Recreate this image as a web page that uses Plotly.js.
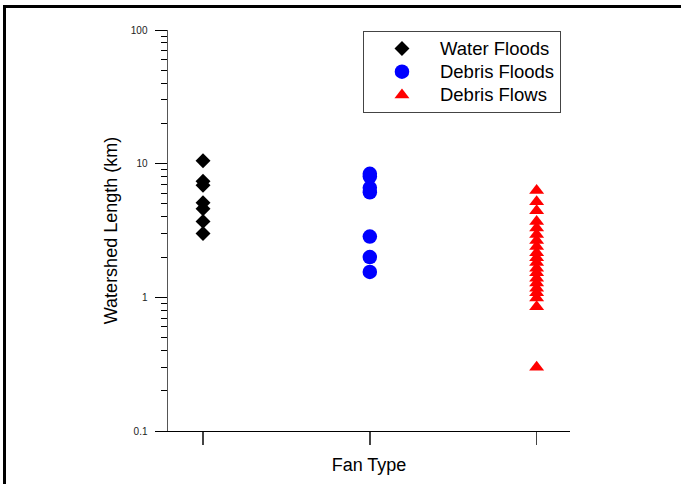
<!DOCTYPE html>
<html>
<head>
<meta charset="utf-8">
<script src="https://cdn.plot.ly/plotly-3.0.1.min.js"></script>
<style>
  html, body { margin: 0; padding: 0; background: #fff; overflow: hidden; }
  #chart { width: 681px; height: 484px; position: absolute; left: 0; top: 0; }
  #frame { position: absolute; left: 3px; top: 5px; width: 800px; height: 600px;
           border: 3px solid #000; pointer-events: none; box-sizing: border-box; }
</style>
</head>
<body>
<div id="chart"></div>
<div id="frame"></div>
<script>
// Categories (fan types)
const categories = ["Water Floods", "Debris Floods", "Debris Flows"];

// Watershed length (km) per fan type
const waterFloods = [10.5, 7.4, 6.9, 5.1, 4.6, 3.7, 3.0];
const debrisFloods = [8.4, 8.0, 6.6, 6.1, 2.85, 2.0, 1.55];
const debrisFlows = [6.3, 5.2, 4.45, 3.7, 3.3, 2.95, 2.66, 2.4, 2.16, 1.98,
                     1.82, 1.65, 1.53, 1.39, 1.28, 1.17, 1.08, 0.99, 0.85, 0.3];

// Y axis ticks
const yMajorTicks = [0.1, 1, 10, 100];
const yTickLabels = ["0.1", "1", "10", "100"];
const yMinorTicks = [0.2, 0.3, 0.4, 0.5, 0.6, 0.7, 0.8, 0.9,
                     2, 3, 4, 5, 6, 7, 8, 9,
                     20, 30, 40, 50, 60, 70, 80, 90];

const font = "Liberation Sans, Arial, sans-serif";

function rep(name, arr) { return arr.map(() => name); }
function legendName(s) { return '<span style="font-size:18.5px">' + s + '</span>'; }

const traces = [
  { x: rep(categories[0], waterFloods), y: waterFloods, name: legendName(categories[0]),
    type: "scatter", mode: "markers",
    marker: { symbol: "diamond", size: 11.5, color: "#000000" } },
  { x: rep(categories[1], debrisFloods), y: debrisFloods, name: legendName(categories[1]),
    type: "scatter", mode: "markers",
    marker: { symbol: "circle", size: 14.5, color: "#0000ff" } },
  { x: rep(categories[2], debrisFlows), y: debrisFlows, name: legendName(categories[2]),
    type: "scatter", mode: "markers",
    marker: { symbol: "triangle-up", size: 13, color: "#ff0000" } }
];

const layout = {
  width: 681, height: 484,
  paper_bgcolor: "#ffffff", plot_bgcolor: "#ffffff",
  margin: { l: 168, r: 111, t: 30, b: 53 },
  font: { family: font, color: "#000" },
  showlegend: true,
  legend: {
    x: 0.485, y: 0.9975, xanchor: "left", yanchor: "top",
    bgcolor: "#ffffff", bordercolor: "#444", borderwidth: 1,
    font: { family: font, size: 15.5, color: "#000" },
    itemwidth: 66, valign: "middle"
  },
  xaxis: {
    type: "category", categoryorder: "array", categoryarray: categories,
    range: [-0.21, 2.2],
    showline: true, linecolor: "#000", linewidth: 1,
    ticks: "outside", ticklen: 13, tickcolor: "#444", tickwidth: 1.5,
    showticklabels: false, showgrid: false, zeroline: false,
    title: { text: "Fan Type", font: { family: font, size: 18, color: "#000" }, standoff: 14 }
  },
  yaxis: {
    type: "log", range: [-1, 2],
    tickmode: "array", tickvals: yMajorTicks, ticktext: yTickLabels,
    showline: true, linecolor: "#555", linewidth: 1.5,
    ticks: "outside", ticklen: 12, tickcolor: "#000", tickwidth: 1,
    tickfont: { family: font, size: 10, color: "#222" },
    ticklabelstandoff: 5,
    minor: { tickmode: "array", tickvals: yMinorTicks, ticks: "outside", ticklen: 6,
             tickcolor: "#000", tickwidth: 1, showgrid: false },
    showgrid: false, zeroline: false,
    title: { text: "Watershed Length (km)", font: { family: font, size: 18, color: "#000" }, standoff: 8 }
  }
};

Plotly.newPlot("chart", traces, layout, { displayModeBar: false, staticPlot: true });
</script>
</body>
</html>
